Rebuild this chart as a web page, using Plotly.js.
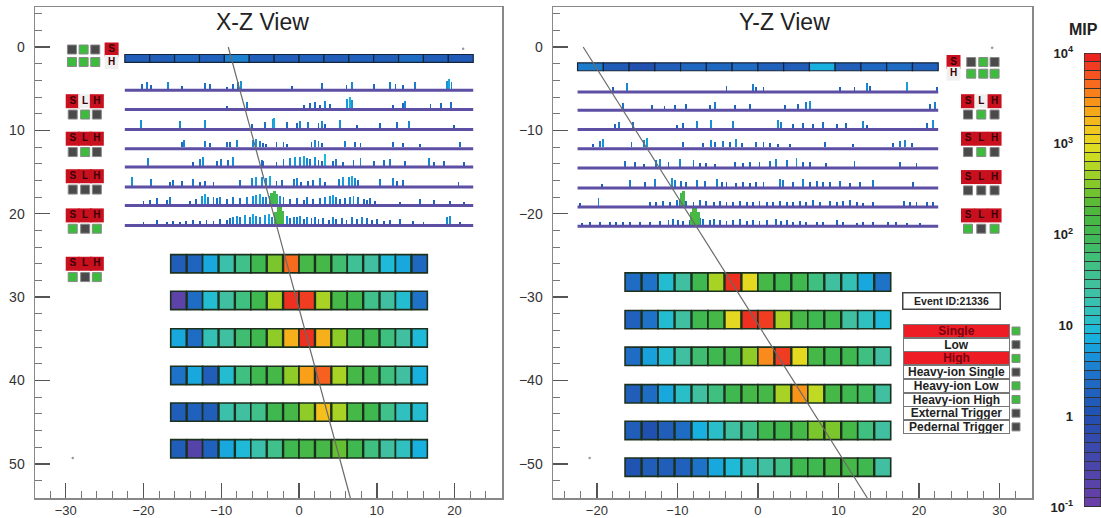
<!DOCTYPE html>
<html><head><meta charset="utf-8">
<script src="https://cdn.plot.ly/plotly-3.0.1.min.js"></script>
<style>html,body{margin:0;padding:0;background:#fff}#chart{width:1101px;height:518px}</style>
</head><body><div id="chart"></div>
<script>
// ---------------- DATA ----------------
// log10(MIP) colour values
const xzTopBar = [0.2,0.2,0.35,0.25,0.55,0.2,0.2,0.25,0.2,0.25,0.2,0.4,0.2,0.15];
const yzTopBar = [0.5,0.15,0.0,0.2,0.35,0.35,0.4,0.25,0.2,0.85,0.2,0.35,0.4,0.25];

const xzStripZ = [5.2,7.5,9.9,12.2,14.4,16.8,19.0,21.4];
const yzStripZ = [-5.4,-7.6,-9.9,-12.2,-14.5,-16.9,-19.2,-21.5];

const xzSpikeX = [
 [-20.2,-19.6,-19.0,-16.8,-15.0,-12.1,-11.5,-9.3,-8.5,-7.8,-7.5,-0.9,2.9,6.1,6.8,9.6,11.7,12.4,13.4,14.9,19.0,19.3,19.6],
 [-9.3,-6.7,0.6,1.4,2.1,2.7,3.3,4.0,6.2,6.5,6.8,12.1,13.4,13.6,16.9,18.2,19.5],
 [-20.3,-15.3,-12.1,-6.1,-4.4,-3.4,-3.2,-1.6,-0.3,0.1,1.2,2.5,2.9,3.3,5.3,7.4,10.4,12.6,14.1,19.9],
 [-15.1,-14.8,-12.1,-11.5,-9.3,-8.9,-8.0,-5.9,-5.5,-5.0,-4.6,-4.2,-2.9,-2.0,-1.6,1.6,2.1,2.5,2.9,5.9,7.2,7.9,12.1,13.4,15.5,20.7],
 [-19.4,-13.6,-12.7,-12.3,-10.6,-10.0,-9.1,-8.5,-4.8,-4.6,-2.9,-2.0,-1.2,-0.5,0.1,0.6,1.0,1.4,2.1,2.5,2.9,3.3,4.4,4.8,5.7,7.0,7.9,9.6,10.9,11.7,13.6,16.7,17.3,18.6,21.2],
 [-21.5,-19.0,-16.6,-16.2,-15.1,-13.6,-12.7,-12.1,-11.0,-7.6,-6.1,-5.5,-4.8,-4.2,-3.7,-2.9,-2.2,-0.7,-0.3,0.3,1.2,1.8,2.7,3.3,5.1,5.7,6.4,6.8,7.2,7.6,10.4,12.1,12.6,13.4,20.5],
 [-20.0,-19.2,-18.3,-17.0,-16.6,-14.0,-13.2,-12.5,-12.1,-11.7,-11.0,-10.6,-10.2,-9.3,-8.5,-7.6,-6.7,-5.9,-5.5,-5.0,-4.6,-4.2,-3.7,-2.4,-2.0,-1.2,-0.3,0.6,1.0,1.8,2.7,3.3,4.0,4.4,4.8,5.3,5.9,6.6,7.0,7.6,8.3,8.7,9.1,9.8,13.0,15.6,17.3,19.4,21.2],
 [-20.0,-18.3,-17.0,-16.2,-15.3,-14.5,-13.6,-12.7,-11.9,-11.0,-10.2,-9.3,-8.9,-8.5,-8.0,-7.6,-7.0,-6.3,-5.9,-5.5,-5.0,-4.4,-3.9,-3.5,-2.0,-1.6,-1.2,-0.7,-0.3,0.1,0.6,1.0,1.6,2.1,2.5,3.1,3.8,4.4,4.8,5.5,6.1,6.8,7.4,8.1,8.7,9.4,10.0,10.9,11.7,13.0,14.7,16.0,19.0,19.4,20.7]
];
const xzSpikeH = [
 [0.6,0.8,0.5,0.9,0.4,0.7,0.6,0.3,0.6,0.8,1.0,0.4,0.7,0.5,0.9,0.6,0.8,0.6,0.5,0.8,1.0,1.2,0.9],
 [0.3,0.8,0.4,0.6,0.7,0.4,0.9,0.5,1.1,1.3,1.0,0.4,0.6,0.9,0.5,0.6,0.7],
 [1.0,0.9,1.0,0.5,0.7,1.1,1.2,0.7,0.6,0.9,0.8,0.6,0.9,0.5,1.0,0.4,0.6,0.7,0.9,0.4],
 [0.6,0.9,0.8,0.5,0.7,0.6,0.9,0.9,1.0,0.8,0.5,0.4,0.6,0.7,0.4,0.6,0.9,0.8,0.5,0.8,0.6,0.5,0.6,0.5,0.4,0.7],
 [0.9,0.4,0.8,1.0,0.6,0.8,0.7,1.0,0.7,0.6,0.5,0.8,0.9,1.1,1.0,1.2,0.9,0.8,1.0,0.7,0.6,1.4,0.6,0.8,0.5,0.7,0.9,0.6,0.7,0.8,0.6,0.9,0.5,0.6,0.4],
 [1.0,0.8,0.5,0.7,0.6,0.8,0.5,0.6,0.4,0.7,0.9,1.1,1.0,0.9,1.2,0.6,0.7,0.8,0.9,0.5,0.6,0.7,0.9,0.5,0.8,1.1,1.0,1.2,0.9,0.7,0.8,0.9,0.6,0.7,0.5],
 [0.4,0.5,0.7,0.5,0.8,0.4,0.6,1.0,1.2,0.9,0.8,0.7,0.9,0.6,0.8,0.7,0.9,1.0,1.1,1.2,0.9,0.8,1.0,1.0,0.8,0.6,0.7,0.5,0.8,0.6,0.7,0.9,1.0,1.1,0.8,0.6,0.7,0.9,1.0,0.8,0.6,0.5,0.7,0.4,0.3,0.6,0.5,0.4,0.3],
 [0.2,0.5,0.3,0.4,0.3,0.4,0.5,0.4,0.5,0.4,0.6,0.5,0.7,0.9,1.0,0.8,1.1,0.9,1.2,1.0,0.9,1.1,1.2,0.9,0.8,1.0,0.7,0.9,0.8,1.0,0.6,0.9,0.7,0.8,0.6,0.7,0.5,0.9,0.6,0.7,0.5,0.8,0.6,0.9,0.7,0.5,0.6,0.4,0.5,0.6,0.4,0.3,0.9,1.0,0.3]
];
const yzSpikeX = [
 [-18.0,-16.3,-3.9,-0.6,-0.2,0.7,10.2,12.0,13.5,13.9,18.5,22.2],
 [-16.7,-13.2,-11.6,-10.3,-8.9,-6.0,-5.3,-2.9,-1.0,3.4,5.0,6.0,6.5,21.4,22.0],
 [-17.8,-17.3,-15.5,-10.1,-9.3,-7.6,-5.8,-3.1,2.5,2.9,4.4,5.6,6.9,8.1,9.8,11.0,13.1,13.5,21.0,21.8],
 [-20.5,-19.6,-19.2,-15.7,-14.2,-13.8,-9.3,-6.8,-5.8,-5.3,-4.3,-3.5,-2.7,-2.0,-0.2,0.7,1.5,2.5,4.0,8.3,11.8,16.8,17.6,18.3,19.1],
 [-16.5,-15.3,-14.2,-12.6,-12.2,-11.1,-9.7,-8.0,-7.2,-6.4,-5.3,-2.9,-1.8,-1.0,0.2,1.5,2.3,3.6,4.8,5.6,6.5,8.5,12.0,17.6,19.7],
 [-19.4,-15.9,-14.0,-12.8,-10.7,-10.3,-9.5,-8.9,-7.6,-6.6,-5.1,-4.5,-3.9,-2.7,-1.8,-1.0,-0.2,0.7,2.7,3.1,4.4,5.6,6.5,7.3,8.1,8.9,10.2,11.4,12.7,14.3,19.3],
 [-22.1,-19.8,-13.4,-12.6,-11.8,-10.9,-10.1,-9.7,-8.9,-8.0,-7.2,-6.4,-5.5,-4.7,-3.9,-3.1,-2.2,-1.4,-0.6,0.2,1.1,1.9,2.7,3.6,4.4,5.2,6.0,6.9,7.7,8.9,9.8,10.6,11.4,12.3,13.1,14.3,18.1,18.9,19.7,21.0,21.8],
 [-21.9,-20.9,-19.6,-18.4,-17.6,-16.7,-15.9,-14.7,-13.4,-12.2,-11.1,-10.5,-9.9,-9.3,-8.4,-7.2,-6.8,-6.0,-5.5,-4.7,-3.9,-3.1,-2.2,-1.4,-0.6,0.2,1.1,2.3,2.9,3.6,4.4,5.2,6.0,7.3,8.1,9.8,10.6,12.3,13.1,14.3,16.2,17.2,18.5,20.1]
];
const yzSpikeH = [
 [0.4,0.9,0.6,0.8,0.5,0.4,0.5,0.4,0.9,0.6,1.1,0.5],
 [0.7,0.5,0.4,0.5,0.6,0.5,0.8,0.5,0.6,0.5,0.6,0.8,1.0,0.6,0.8],
 [0.5,0.8,0.7,0.4,0.6,0.9,1.0,0.9,1.0,0.8,0.5,0.6,0.5,0.7,0.5,0.6,0.9,0.4,0.6,1.0],
 [0.4,0.8,1.0,0.7,0.9,1.1,0.6,0.5,0.9,0.7,0.8,0.6,1.0,0.5,0.7,0.6,0.5,0.4,0.4,0.6,0.4,0.5,0.8,0.9,0.5],
 [0.7,0.5,0.3,0.8,0.9,0.6,0.9,0.8,0.4,0.4,0.3,0.5,0.4,0.6,0.5,0.7,0.9,0.8,1.0,0.6,0.5,0.4,0.7,0.6,0.4],
 [0.3,0.8,0.5,0.9,1.0,0.8,0.7,0.6,0.8,0.7,0.9,0.5,0.6,0.4,0.5,0.4,0.5,0.6,0.9,0.8,0.6,0.9,0.5,0.7,0.6,0.5,0.7,0.4,0.5,0.8,0.5],
 [0.3,0.9,0.5,0.4,0.6,0.5,0.7,0.8,0.6,0.5,0.7,0.6,0.5,0.6,0.4,0.5,0.6,0.5,0.4,0.6,0.5,0.4,0.6,0.5,0.4,0.6,0.5,0.7,0.5,0.6,0.5,0.6,0.7,0.4,0.3,0.4,0.6,0.5,0.4,0.5,0.4],
 [0.2,0.3,0.3,0.4,0.3,0.3,0.4,0.3,0.4,0.5,0.6,0.7,0.6,0.5,0.6,0.8,0.7,0.6,0.7,0.6,0.5,0.6,0.7,0.5,0.6,0.5,0.6,0.7,0.5,0.6,0.4,0.5,0.4,0.3,0.4,0.6,0.3,0.2,0.3,0.3,0.4,0.3,0.2,0.2]
];
// large (green) deposits where the track crosses the strip layers
const xzBlobLayer = [6,6,6,7,7,7,7];
const xzBlobX = [-3.5,-3.2,-2.9,-3.0,-2.7,-2.4,-2.1];
const xzBlobH = [1.3,1.6,1.2,1.5,2.0,2.2,1.6];
const yzBlobLayer = [6,6,7,7,7,7];
const yzBlobX = [-9.5,-9.2,-8.3,-8.0,-7.7,-7.4];
const yzBlobH = [1.5,1.8,1.6,2.1,2.0,1.5];

// calorimeter: 6 layers x 16 bars, log10(MIP)
const calBarX = [-15.5,-13.4,-11.4,-9.3,-7.2,-5.2,-3.1,-1.0,1.0,3.1,5.2,7.2,9.3,11.4,13.4,15.5];
const xzCalZ = [26.0,30.4,34.9,39.4,43.8,48.2];
const yzCalZ = [-28.2,-32.7,-37.1,-41.6,-46.0,-50.4];
const xzCal = [
 [0.2,0.3,0.8,1.3,1.6,2.0,2.5,3.65,2.1,2.1,1.8,1.5,1.4,0.95,0.8,0.35],
 [-0.8,0.4,1.0,1.4,1.7,2.0,2.7,3.9,3.85,2.7,2.1,2.0,1.6,1.4,1.0,0.45],
 [0.8,0.4,1.2,1.4,1.8,2.0,2.6,3.3,3.9,3.3,2.6,2.1,2.0,1.7,1.4,0.95],
 [0.45,0.8,0.2,1.0,1.7,2.0,2.1,2.6,3.4,3.7,2.7,2.1,2.0,1.7,1.4,0.85],
 [0.2,0.25,0.2,1.3,1.4,1.6,2.0,2.1,2.6,3.2,2.7,2.1,2.0,1.6,1.1,1.0],
 [0.2,-0.7,0.25,0.8,0.95,1.3,1.6,2.0,2.1,2.1,2.4,2.0,1.7,1.4,1.1,0.85]
];
const yzCal = [
 [0.4,0.45,1.0,1.4,2.0,2.7,3.9,3.0,2.1,2.0,2.0,1.7,1.4,1.2,0.8,0.45],
 [0.25,0.45,1.0,1.4,2.0,2.1,3.0,3.9,3.85,2.7,2.1,2.0,2.0,1.4,1.1,0.95],
 [0.4,0.75,1.0,1.4,1.8,2.0,2.1,2.6,3.5,3.85,3.0,2.1,2.0,2.0,1.7,1.4],
 [0.2,0.4,0.8,1.05,1.4,1.7,2.0,2.1,2.1,2.7,3.45,2.8,2.1,2.0,1.9,1.4],
 [0.2,0.0,0.2,0.4,0.85,1.05,1.4,1.6,2.0,2.0,2.1,2.5,2.5,2.1,1.7,1.4],
 [0.05,0.2,0.2,0.25,0.45,0.8,0.95,1.15,1.4,1.6,2.0,2.0,2.1,2.1,2.0,1.4]
];

// reconstructed track
const xzTrackX = [-9.1, 6.6], xzTrackZ = [0, 54.1];
const yzTrackX = [-21.7, 13.6], yzTrackZ = [0, -54.1];

// trigger indicator states (1 = on / green)
const xzTrigTop = [[0,1,0],[1,1,1]];
const yzTrigTop = [[0,1,0],[1,1,1]];
const xzTrigZ = [6.5,11.0,15.5,20.2,26.0];
const yzTrigZ = [-6.5,-11.0,-15.6,-20.2];
const xzTrigSq = [[0,1,0],[0,1,0],[0,0,0],[1,0,1],[1,0,1]];
const yzTrigSq = [[0,1,0],[0,1,0],[0,0,0],[1,0,1]];
const trigLetters = ['S','L','H'];
const trigLowOff = [1,0,0,0,0]; // "L" shown white in first box

const trigNames = ['Single','Low','High','Heavy-ion Single','Heavy-ion Low','Heavy-ion High','External Trigger','Pedernal Trigger'];
const trigFired = [1,0,1,0,0,0,0,0];
const trigFlag  = [1,0,1,0,1,1,0,0];
const eventId = 'Event ID:21336';

const cbTickVals = [-1,0,1,2,3,4];
const cbTickText = ['10<sup>-1</sup>','1','10','10<sup>2</sup>','10<sup>3</sup>','10<sup>4</sup>'];

// ---------------- STYLE ----------------
const CS = [[0,'#6c3fa6'],[0.1,'#4646ac'],[0.2,'#2050b0'],[0.28,'#1f6cc4'],[0.34,'#1898dc'],[0.38,'#18b8e0'],[0.42,'#30c0c0'],[0.48,'#40c0a0'],[0.54,'#40c080'],[0.6,'#40b850'],[0.66,'#50b838'],[0.72,'#90cc28'],[0.78,'#d8e020'],[0.82,'#f0d020'],[0.88,'#f8a018'],[0.94,'#f86020'],[1,'#e81820']];
const CMIN = -1, CMAX = 4;
const W = 1101, H = 518;
const px = v => v / W, py = v => 1 - v / H;
const FONT = 'Liberation Sans, Arial, sans-serif';
const GREEN = '#3dbb3d', DARK = '#4a4a4a', RED = '#c8101e';

const traces = [];
const annotations = [];
const shapes = [];

function panel(cfg) {
  const {xa, ya, sign, topBar, topZ, stripZ, spikeX, spikeH, blobL, blobX, blobH, calZ, cal, trX, trZ} = cfg;
  const ext = [-22.4, 22.4], n = topBar.length, sw = (ext[1]-ext[0])/n;
  traces.push({type:'bar', xaxis:xa, yaxis:ya, x: topBar.map((_,i)=>ext[0]+sw*(i+0.5)),
    y: topBar.map(()=>0.95), base: topBar.map(()=>topZ), width: sw,
    marker:{color: topBar, colorscale: CS, cmin: CMIN, cmax: CMAX, line:{color:'#16243a', width:1.2}}, hoverinfo:'skip'});
  const sx=[], sy=[], sb=[], sc=[];
  spikeX.forEach((arr,l)=>arr.forEach((x,i)=>{ const h=spikeH[l][i]; sx.push(x); sy.push(sign*h); sb.push(stripZ[l]+sign*0.15); sc.push(-0.1+0.75*h); }));
  traces.push({type:'bar', xaxis:xa, yaxis:ya, x:sx, y:sy, base:sb, width:0.24,
    marker:{color:sc, colorscale:CS, cmin:CMIN, cmax:CMAX, line:{width:0}}, hoverinfo:'skip'});
  traces.push({type:'bar', xaxis:xa, yaxis:ya, x:blobX, y:blobH.map(h=>sign*h), base:blobL.map(l=>stripZ[l]+sign*0.15), width:0.35,
    marker:{color:blobH.map(h=>1.6+0.3*h), colorscale:CS, cmin:CMIN, cmax:CMAX, line:{width:0}}, hoverinfo:'skip'});
  const lx=[], ly=[];
  stripZ.forEach(z=>{ lx.push(ext[0],ext[1],null); ly.push(z,z,null); });
  traces.push({type:'scatter', mode:'lines', xaxis:xa, yaxis:ya, x:lx, y:ly, line:{color:'#5d4fa3', width:3}, hoverinfo:'skip'});
  const cx=[], cb=[], cv=[];
  calZ.forEach((z,r)=>calBarX.forEach((x,i)=>{ cx.push(x); cb.push(z-1.1); cv.push(cal[r][i]); }));
  traces.push({type:'bar', xaxis:xa, yaxis:ya, x:cx, y:cx.map(()=>2.2), base:cb, width:2.0,
    marker:{color:cv, colorscale:CS, cmin:CMIN, cmax:CMAX, line:{color:'#1c301e', width:1.6}}, hoverinfo:'skip'});
  traces.push({type:'scatter', mode:'lines', xaxis:xa, yaxis:ya, x:trX, y:trZ, line:{color:'#6a6a6a', width:1.2}, hoverinfo:'skip'});
}

panel({xa:'x', ya:'y', sign:-1, topBar:xzTopBar, topZ:0.9, stripZ:xzStripZ, spikeX:xzSpikeX, spikeH:xzSpikeH,
  blobL:xzBlobLayer, blobX:xzBlobX, blobH:xzBlobH, calZ:xzCalZ, cal:xzCal, trX:xzTrackX, trZ:xzTrackZ});
panel({xa:'x2', ya:'y2', sign:1, topBar:yzTopBar, topZ:-2.85, stripZ:yzStripZ, spikeX:yzSpikeX, spikeH:yzSpikeH,
  blobL:yzBlobLayer, blobX:yzBlobX, blobH:yzBlobH, calZ:yzCalZ, cal:yzCal, trX:yzTrackX, trZ:yzTrackZ});

function indicators(xa, ya, top, topZ, topSqX, topLetX, boxZ, sqDz, sqState, letX, lowOff) {
  const qx=[], qy=[], qc=[];
  top.forEach((row,r)=>row.forEach((s,i)=>{ qx.push(topSqX[i]); qy.push(topZ[r]); qc.push(s?GREEN:DARK); }));
  sqState.forEach((row,g)=>row.forEach((s,i)=>{ qx.push(letX[i]); qy.push(boxZ[g]+sqDz); qc.push(s?GREEN:DARK); }));
  traces.push({type:'scatter', mode:'markers', xaxis:xa, yaxis:ya, x:qx, y:qy,
    marker:{symbol:'square', size:9, color:qc, line:{color:'#888', width:1}}, hoverinfo:'skip'});
  const bx=[], by=[], bt=[], bc=[];
  bx.push(topLetX, topLetX); by.push(topZ[0], topZ[1]); bt.push('S','H'); bc.push(RED,'#f0f0f0');
  boxZ.forEach((z,g)=>trigLetters.forEach((t,i)=>{ bx.push(letX[i]); by.push(z); bt.push(t);
    bc.push(i===1 && lowOff[g] ? '#f0f0f0' : RED); }));
  traces.push({type:'scatter', mode:'markers+text', xaxis:xa, yaxis:ya, x:bx, y:by, text:bt,
    textposition:'middle center', textfont:{family:FONT, size:10, color:'#3a0006', weight:'bold'},
    marker:{symbol:'square', size:14, color:bc, line:{width:0}}, hoverinfo:'skip'});
}
indicators('x','y', xzTrigTop, [0.3,1.8], [-29.2,-27.7,-26.2], -24.1, xzTrigZ, 1.6, xzTrigSq, [-29.1,-27.5,-26.0], trigLowOff);
indicators('x2','y2', yzTrigTop, [-1.8,-3.2], [26.5,28.0,29.4], 24.3, yzTrigZ, -1.6, yzTrigSq, [26.1,27.75,29.4], trigLowOff);

// colour scale (MIP) drawn as banded strip
const nb = 50, bz=[], by=[];
for (let i=0;i<nb;i++){ const v = CMIN + (CMAX-CMIN)*(i+0.5)/nb; bz.push([v]); by.push(v); }
traces.push({type:'heatmap', xaxis:'x3', yaxis:'y3', x:[0.5], y:by, z:bz, colorscale:CS, zmin:CMIN, zmax:CMAX,
  showscale:false, ygap:1, hoverinfo:'skip'});
shapes.push({type:'rect', xref:'x3', yref:'y3', x0:0, x1:1, y0:CMIN, y1:CMAX, fillcolor:'#333', line:{width:0}, layer:'below'});
shapes.push({type:'rect', xref:'x3', yref:'y3', x0:0, x1:1, y0:CMIN, y1:CMAX, fillcolor:'rgba(0,0,0,0)', line:{color:'#333', width:1.5}});

const ann = (x, y, text, font, extra) => Object.assign({xref:'paper', yref:'paper', x:px(x), y:py(y), text, showarrow:false,
  xanchor:'center', yanchor:'middle', font}, extra || {});
annotations.push(ann(262, 22, 'X-Z View', {family:FONT, size:23, color:'#222'}));
annotations.push(ann(784, 22, 'Y-Z View', {family:FONT, size:23, color:'#222'}));
annotations.push(ann(1083, 29, '<b>MIP</b>', {family:FONT, size:16, color:'#222'}));

annotations.push(ann(951, 301, '<b>'+eventId+'</b>', {family:FONT, size:10.5, color:'#222'},
  {width:94, height:13, borderpad:1, bgcolor:'#fff', bordercolor:'#444', borderwidth:1.5}));
trigNames.forEach((t,i)=>{
  const yc = 331 + 13.7*i;
  annotations.push(ann(956.5, yc, '<b>'+t+'</b>', {family:FONT, size:12, color: trigFired[i] ? '#7a0010' : '#222'},
    {width:105, height:12, borderpad:0, bgcolor: trigFired[i] ? '#ee1c24' : '#fff', bordercolor:'#777', borderwidth:1}));
  shapes.push({type:'rect', xref:'paper', yref:'paper', x0:px(1012), x1:px(1020), y0:py(yc+4), y1:py(yc-4),
    fillcolor: trigFlag[i] ? GREEN : DARK, line:{color:'#888', width:1}});
});

const axBase = {showgrid:false, zeroline:false, showline:true, mirror:true, linecolor:'#888', linewidth:1.5,
  ticks:'inside', ticklen:15, tickcolor:'#555', tickwidth:1.5, dtick:10, tick0:0,
  minor:{ticks:'inside', ticklen:7, dtick:2, tickcolor:'#777', tickwidth:1},
  tickfont:{family:FONT, size:14, color:'#333'}};

const layout = {
  width:W, height:H, margin:{l:0,r:0,t:0,b:0}, paper_bgcolor:'#fff', plot_bgcolor:'#fff',
  showlegend:false, barmode:'overlay', bargap:0,
  xaxis: Object.assign({}, axBase, {domain:[px(35), px(502)], range:[-33.95, 26.1], anchor:'y', ticklabelstandoff:0, tickfont:{family:FONT, size:13, color:'#333'}}),
  yaxis: Object.assign({}, axBase, {domain:[py(498), py(7)], range:[54.1, -4.8], anchor:'x', ticklabelstandoff:6}),
  xaxis2: Object.assign({}, axBase, {domain:[px(553), px(1032)], range:[-25.45, 34.05], anchor:'y2', ticklabelstandoff:0, tickfont:{family:FONT, size:13, color:'#333'}}),
  yaxis2: Object.assign({}, axBase, {domain:[py(498), py(7)], range:[-54.1, 4.8], anchor:'x2', ticklabelstandoff:6}),
  xaxis3: {domain:[px(1084), 1], range:[0,1], visible:false, anchor:'y3', fixedrange:true},
  yaxis3: {domain:[py(507), py(53)], range:[CMIN, CMAX], anchor:'x3', side:'left', showgrid:false, zeroline:false,
    showline:false, ticks:'', tickvals:cbTickVals, ticktext:cbTickText, ticklabelstandoff:10,
    tickfont:{family:FONT, size:13, color:'#222', weight:'bold'}},
  annotations, shapes
};

const dotX = [21.1, -29.1], dotZ = [0.2, 49.3];
const dot2X = [-20.9, 29.1], dot2Z = [-49.3, -0.1];
traces.push({type:'scatter', mode:'markers', xaxis:'x', yaxis:'y', x:dotX, y:dotZ, marker:{size:2.5, color:'#999'}, hoverinfo:'skip'});
traces.push({type:'scatter', mode:'markers', xaxis:'x2', yaxis:'y2', x:dot2X, y:dot2Z, marker:{size:2.5, color:'#999'}, hoverinfo:'skip'});

Plotly.newPlot('chart', traces, layout, {displayModeBar:false, staticPlot:true});
</script></body></html>
